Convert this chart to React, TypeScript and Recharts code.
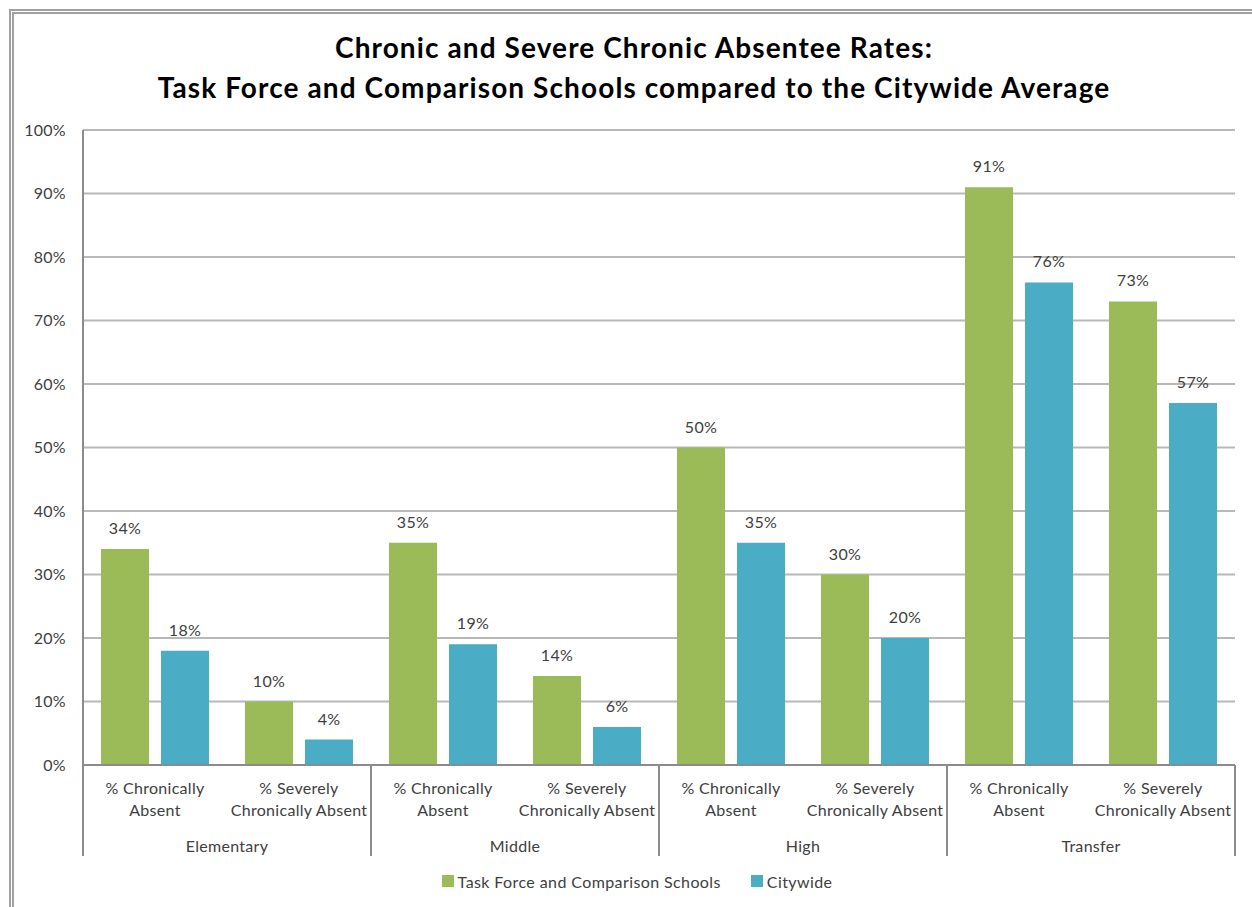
import React from "react";
import { BarChart, Bar, XAxis, YAxis, CartesianGrid, LabelList } from "recharts";

const groups = ["Elementary", "Middle", "High", "Transfer"];
const subLabelLines = [
  ["% Chronically", "Absent"],
  ["% Severely", "Chronically Absent"],
];
const categories = [
  "Elementary|chronic", "Elementary|severe",
  "Middle|chronic", "Middle|severe",
  "High|chronic", "High|severe",
  "Transfer|chronic", "Transfer|severe",
];
const taskForce = [34, 10, 35, 14, 50, 30, 91, 73];
const citywide = [18, 4, 19, 6, 35, 20, 76, 57];
const yTicks = [0, 10, 20, 30, 40, 50, 60, 70, 80, 90, 100];
const seriesNames = ["Task Force and Comparison Schools", "Citywide"];
const seriesColors = ["#9BBB59", "#4BACC6"];

const data = categories.map((c, i) => ({
  id: c,
  group: groups[Math.floor(i / 2)],
  sub: i % 2,
  tf: taskForce[i],
  cw: citywide[i],
}));

const FONT = "Lato, 'Open Sans', sans-serif";
const TEXT = "#404040";
const AXIS = "#8C8C8C";
const LS = 0.3;

const XTick = (props: any) => {
  const { x, y, payload, index, visibleTicksCount, width } = props;
  const band = payload && payload.offset ? payload.offset * 2 : width / visibleTicksCount;
  const lines = subLabelLines[index % 2];
  const isFirst = index % 2 === 0;
  const isLast = index === visibleTicksCount - 1;
  const tp = { textAnchor: "middle" as const, fill: TEXT, fontSize: 16, fontFamily: FONT, letterSpacing: LS };
  return (
    <g>
      <text x={x} y={y + 29} {...tp}>{lines[0]}</text>
      <text x={x} y={y + 51} {...tp}>{lines[1]}</text>
      {isFirst && (
        <>
          <line x1={x - band / 2} x2={x - band / 2} y1={y} y2={y + 91} stroke={AXIS} strokeWidth={2} />
          <text x={x + band / 2} y={y + 87} {...tp}>
            {data[index].group}
          </text>
        </>
      )}
      {isLast && <line x1={x + band / 2} x2={x + band / 2} y1={y} y2={y + 91} stroke={AXIS} strokeWidth={2} />}
    </g>
  );
};

export default function App() {
  return (
    <div style={{ position: "fixed", left: 0, top: 0, width: 1252, height: 907, background: "#fff", overflow: "hidden" }}>
      <div
        style={{
          position: "absolute",
          left: 9,
          top: 9,
          width: 1400,
          height: 1100,
          border: "5px double #A0A0A0",
        }}
      />
      <div
        style={{
          position: "absolute",
          left: 0,
          width: 1268,
          top: 27,
          textAlign: "center",
          fontFamily: FONT,
          fontWeight: 700,
          fontSize: 28,
          letterSpacing: 1.1,
          lineHeight: "40px",
          color: "#000",
        }}
      >
        <div>Chronic and Severe Chronic Absentee Rates:</div>
        <div>Task Force and Comparison Schools compared to the Citywide Average</div>
      </div>
      <div style={{ position: "absolute", left: 0, top: 0 }}>
        <BarChart
          width={1252}
          height={907}
          data={data}
          margin={{ top: 130, right: 17, bottom: 0, left: 23 }}
          barCategoryGap="12.5%"
          barGap={12}
        >
          <CartesianGrid vertical={false} stroke="#B8B8B8" strokeWidth={2} />
          <YAxis
            domain={[0, 100]}
            ticks={yTicks}
            interval={0}
            width={60}
            tickLine={false}
            tickMargin={11}
            axisLine={{ stroke: AXIS, strokeWidth: 2 }}
            tickFormatter={(v: number) => `${v}%`}
            tick={{ fill: TEXT, fontSize: 16, fontFamily: FONT, letterSpacing: LS }}
          />
          <XAxis
            dataKey="id"
            type="category"
            interval={0}
            height={142}
            tickSize={0}
            tickMargin={0}
            tickLine={false}
            axisLine={{ stroke: AXIS, strokeWidth: 2 }}
            tick={<XTick />}
          />
          <Bar dataKey="tf" name={seriesNames[0]} fill={seriesColors[0]} isAnimationActive={false}>
            <LabelList dataKey="tf" position="top" offset={15} formatter={(v: any) => `${v}%`} fill={TEXT} fontSize={16} fontFamily={FONT} letterSpacing={LS} />
          </Bar>
          <Bar dataKey="cw" name={seriesNames[1]} fill={seriesColors[1]} isAnimationActive={false}>
            <LabelList dataKey="cw" position="top" offset={15} formatter={(v: any) => `${v}%`} fill={TEXT} fontSize={16} fontFamily={FONT} letterSpacing={LS} />
          </Bar>
        </BarChart>
      </div>
      <div
        style={{
          position: "absolute",
          left: 0,
          width: 1274,
          top: 870,
          height: 22,
          display: "flex",
          justifyContent: "center",
          alignItems: "center",
          fontFamily: FONT,
          fontSize: 16,
          letterSpacing: 0.4,
          color: TEXT,
        }}
      >
        {seriesNames.map((n, i) => (
          <div key={n} style={{ display: "flex", alignItems: "center", marginRight: i === 0 ? 30 : 0 }}>
            <span style={{ width: 12, height: 12, background: seriesColors[i], display: "inline-block", marginRight: 4 }} />
            <span>{n}</span>
          </div>
        ))}
      </div>
    </div>
  );
}
